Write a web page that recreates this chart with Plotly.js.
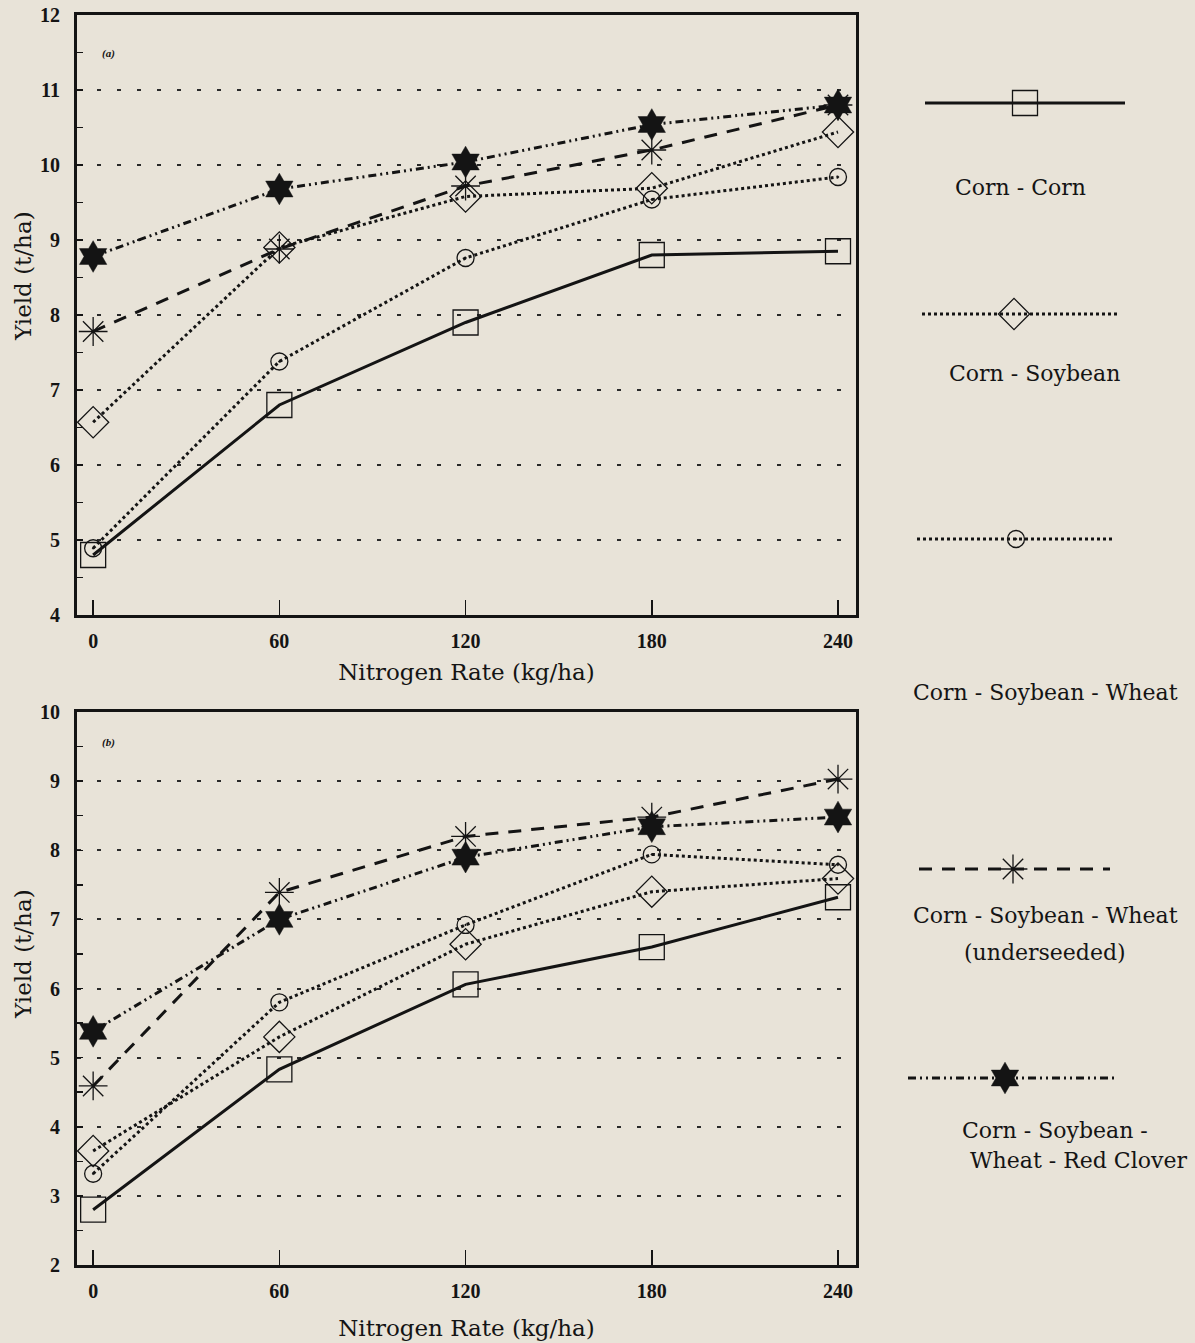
<!DOCTYPE html>
<html>
<head>
<meta charset="utf-8">
<script src="https://cdn.plot.ly/plotly-3.0.1.min.js"></script>
<style>html,body{margin:0;padding:0;background:#e8e3d8;}#chart{width:1195px;height:1343px;}</style>
</head>
<body>
<div id="chart"></div>
<script>
// ---- data ----
const nitrogenRates = [0, 60, 120, 180, 240];
const seriesNames = [
  'Corn - Corn',
  'Corn - Soybean',
  'Corn - Soybean - Wheat',
  'Corn - Soybean - Wheat (underseeded)',
  'Corn - Soybean - Wheat - Red Clover'
];
// panel (a)
const yieldA_cornCorn      = [4.8, 6.8, 7.9, 8.8, 8.85];
const yieldA_cornSoy       = [6.57, 8.9, 9.58, 9.69, 10.44];
const yieldA_cornSoyWheat  = [4.89, 7.38, 8.76, 9.54, 9.84];
const yieldA_underseeded   = [7.78, 8.88, 9.72, 10.2, 10.8];
const yieldA_redClover     = [8.78, 9.68, 10.04, 10.54, 10.8];
// panel (b)
const yieldB_cornCorn      = [2.8, 4.83, 6.06, 6.6, 7.32];
const yieldB_cornSoy       = [3.65, 5.3, 6.64, 7.4, 7.59];
const yieldB_cornSoyWheat  = [3.32, 5.8, 6.92, 7.94, 7.79];
const yieldB_underseeded   = [4.59, 7.39, 8.2, 8.48, 9.03];
const yieldB_redClover     = [5.38, 7.0, 7.9, 8.34, 8.48];

const legendLines = [
  ['Corn - Corn'],
  ['Corn - Soybean'],
  ['Corn - Soybean - Wheat'],
  ['Corn - Soybean - Wheat', '(underseeded)'],
  ['Corn - Soybean -', 'Wheat - Red Clover']
];
const xTitle = 'Nitrogen Rate (kg/ha)';
const yTitle = 'Yield (t/ha)';

// ---- styles ----
const ink = '#141414';
const styles = [
  {dash: 'solid', symbol: 'square-open', size: 25, mlw: 1.3},
  {dash: 'dot', symbol: 'diamond-open', size: 24, mlw: 1.3},
  {dash: 'dot', symbol: 'circle-open-dot', size: 17, mlw: 1.3},
  {dash: '13px,10px', symbol: 'asterisk-open', size: 24, mlw: 1.3},
  {dash: '8px,4px,2px,4px,2px,4px', symbol: 'hexagram', size: 24, mlw: 0.5}
];
const panelA = [yieldA_cornCorn, yieldA_cornSoy, yieldA_cornSoyWheat, yieldA_underseeded, yieldA_redClover];
const panelB = [yieldB_cornCorn, yieldB_cornSoy, yieldB_cornSoyWheat, yieldB_underseeded, yieldB_redClover];

const traces = [];
function addPanel(values, xa, ya) {
  values.forEach((ys, i) => {
    const s = styles[i];
    traces.push({
      type: 'scatter', mode: 'lines+markers', name: seriesNames[i],
      x: nitrogenRates, y: ys, xaxis: xa, yaxis: ya,
      line: {color: ink, width: 3, dash: s.dash},
      marker: {symbol: s.symbol, size: s.size, color: ink, line: {color: ink, width: s.mlw}},
      cliponaxis: false, showlegend: false
    });
  });
}
addPanel(panelA, 'x', 'y');
addPanel(panelB, 'x2', 'y2');

// ---- legend (drawn on a hidden axis in pixel units) ----
const legendPos = [
  {ly: 103, x0: 925, x1: 1125, xm: 1025, tx: 1020, ty: [187]},
  {ly: 314, x0: 922, x1: 1117, xm: 1014, tx: 1034, ty: [373]},
  {ly: 539, x0: 917, x1: 1113, xm: 1016, tx: 1045, ty: [692]},
  {ly: 869, x0: 919, x1: 1110, xm: 1013, tx: 1045, ty: [915, 952]},
  {ly: 1078, x0: 908, x1: 1115, xm: 1005, tx: 1055, ty: [1130, 1160], tx2: 1078}
];
const annotations = [];
const legendFont = {family: 'DejaVu Serif', size: 22, color: ink};
legendPos.forEach((p, i) => {
  const s = styles[i];
  traces.push({
    type: 'scatter', mode: 'lines+markers', name: seriesNames[i] + ' (key)',
    x: [p.x0, p.xm, p.x1], y: [p.ly, p.ly, p.ly], xaxis: 'x3', yaxis: 'y3',
    line: {color: ink, width: 3, dash: s.dash},
    marker: {symbol: s.symbol, size: [0, s.size, 0], opacity: [0, 1, 0], color: ink, line: {color: ink, width: s.mlw}},
    cliponaxis: false, showlegend: false, hoverinfo: 'skip'
  });
  legendLines[i].forEach((t, k) => {
    annotations.push({
      xref: 'x3', yref: 'y3', x: (k === 1 && p.tx2) ? p.tx2 : p.tx, y: p.ty[k],
      text: t, showarrow: false, xanchor: 'center', yanchor: 'middle',
      font: legendFont
    });
  });
});
const H = 1343, W = 1195;
const panelFont = {family: 'Liberation Serif', size: 11, color: ink};
annotations.push({xref: 'paper', yref: 'paper', x: 100/W, y: 1 - 45/H, text: '<b><i>(a)</i></b>', showarrow: false, xanchor: 'left', font: panelFont});
annotations.push({xref: 'paper', yref: 'paper', x: 100/W, y: 1 - 742/H, text: '<b><i>(b)</i></b>', showarrow: false, xanchor: 'left', font: panelFont});
const titleFont = {family: 'DejaVu Serif', size: 23, color: ink};
// y-axis titles (placed as rotated text beside each panel)
annotations.push({xref: 'paper', yref: 'paper', x: 23/W, y: 1 - 276/H, text: yTitle, textangle: -90, showarrow: false, xanchor: 'center', yanchor: 'middle', font: titleFont});
annotations.push({xref: 'paper', yref: 'paper', x: 23/W, y: 1 - 954/H, text: yTitle, textangle: -90, showarrow: false, xanchor: 'center', yanchor: 'middle', font: titleFont});

const tickFont = {family: 'Liberation Serif', size: 20, color: ink, weight: 'bold'};
function xAxis(anchor, standoff) {
  return {
    domain: [77/W, 856/W], range: [-5.2, 245.8], anchor: anchor,
    tickvals: nitrogenRates, ticktext: nitrogenRates.map(String),
    ticks: 'inside', ticklen: 15, tickwidth: 1.5, tickcolor: ink,
    showline: true, mirror: true, linewidth: 3, linecolor: ink,
    showgrid: false, zeroline: false, tickfont: tickFont, ticklabelstandoff: 6,
    title: {text: xTitle, font: titleFont, standoff: standoff}
  };
}
function yAxis(anchor, dom, rng) {
  return {
    domain: dom, range: rng, anchor: anchor, dtick: 1,
    ticks: 'inside', ticklen: 6, tickwidth: 1.5, tickcolor: ink,
    minor: {ticks: 'inside', dtick: 0.5, ticklen: 6, tickwidth: 1.5, tickcolor: ink, showgrid: false},
    showline: true, mirror: true, linewidth: 3, linecolor: ink,
    showgrid: true, gridcolor: '#2a2a2a', gridwidth: 2, griddash: '4px,16px',
    zeroline: false, tickfont: tickFont, ticklabelstandoff: 10
  };
}

const layout = {
  width: W, height: H, margin: {l: 0, r: 0, t: 0, b: 0},
  paper_bgcolor: '#e8e3d8', plot_bgcolor: '#e8e3d8',
  showlegend: false,
  xaxis: xAxis('y', 13),
  yaxis: yAxis('x', [1 - 615/H, 1 - 15/H], [4, 12]),
  xaxis2: xAxis('y2', 19),
  yaxis2: yAxis('x2', [1 - 1265/H, 1 - 712/H], [2, 10]),
  xaxis3: {domain: [884/W, 1], range: [884, 1195], visible: false, anchor: 'y3', fixedrange: true},
  yaxis3: {domain: [0, 1], range: [1343, 0], visible: false, anchor: 'x3', fixedrange: true},
  annotations: annotations
};

Plotly.newPlot('chart', traces, layout, {displayModeBar: false, staticPlot: true});
</script>
</body>
</html>
